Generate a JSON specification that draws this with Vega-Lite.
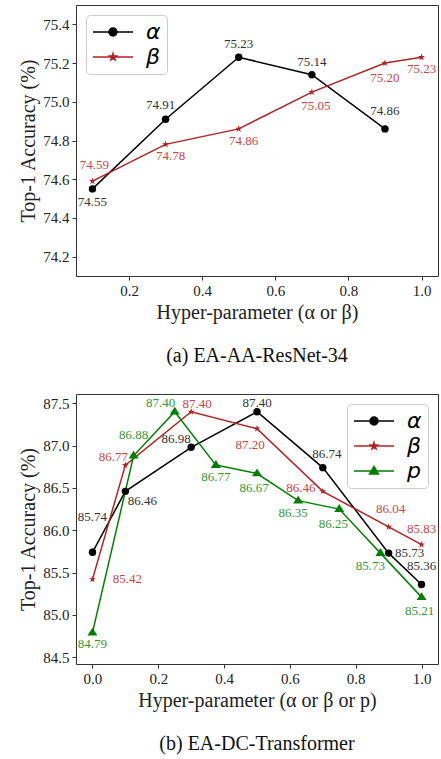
{
"$schema": "https://vega.github.io/schema/vega-lite/v6.json",
"background": "white",
"padding": {"left": 18, "top": 4, "right": 0, "bottom": 5},
"config": {
  "font": "Liberation Serif",
  "view": {"stroke": "#333333", "strokeWidth": 1},
  "axis": {"domain": false, "grid": false, "labelFont": "Liberation Serif", "labelFontSize": 15, "labelColor": "#222222", "tickColor": "#333333", "tickSize": 4, "labelPadding": 3, "titleFont": "Liberation Serif", "titleFontSize": 20, "titleFontWeight": "normal", "titleColor": "#222222"},
  "legend": {"labelFont": "DejaVu Sans", "labelFontStyle": "italic", "labelFontSize": 22, "labelColor": "#000000", "symbolSize": 400, "labelOffset": 32, "rowPadding": 3, "padding": 6, "cornerRadius": 4, "strokeColor": "#cccccc", "fillColor": "white", "offset": 10, "title": null},
  "title": {"font": "Liberation Serif", "fontSize": 20, "fontWeight": "normal", "color": "#111111"}
},
"resolve": {"scale": {"color": "independent"}, "legend": {"color": "independent"}},
"spacing": 26,
"vconcat": [
{
  "width": 362, "height": 271,
  "title": {"text": "(a) EA-AA-ResNet-34", "orient": "bottom", "offset": 24},
  "data": {"values": [
    {"s": "α", "x": 0.1, "y": 74.55},
    {"s": "α", "x": 0.3, "y": 74.91},
    {"s": "α", "x": 0.5, "y": 75.23},
    {"s": "α", "x": 0.7, "y": 75.14},
    {"s": "α", "x": 0.9, "y": 74.86},
    {"s": "β", "x": 0.1, "y": 74.59},
    {"s": "β", "x": 0.3, "y": 74.78},
    {"s": "β", "x": 0.5, "y": 74.86},
    {"s": "β", "x": 0.7, "y": 75.05},
    {"s": "β", "x": 0.9, "y": 75.20},
    {"s": "β", "x": 1.0, "y": 75.23}
  ]},
  "encoding": {
    "x": {"field": "x", "type": "quantitative", "scale": {"domain": [0.055, 1.045], "nice": false, "zero": false}, "axis": {"values": [0.2, 0.4, 0.6, 0.8, 1.0], "format": ".1f", "title": "Hyper-parameter (α or β)", "titlePadding": 4}},
    "y": {"field": "y", "type": "quantitative", "scale": {"domain": [74.1, 75.5], "nice": false, "zero": false}, "axis": {"values": [74.2, 74.4, 74.6, 74.8, 75.0, 75.2, 75.4], "format": ".1f", "title": "Top-1 Accuracy (%)", "titlePadding": 4}}
  },
  "layer": [
    {"mark": {"type": "line", "strokeWidth": 1.5}, "encoding": {"color": {"field": "s", "type": "nominal", "scale": {"domain": ["α", "β"], "range": ["#000000", "#b22222"]}, "legend": {"orient": "top-left", "symbolType": "M-1,0H3", "encode": {"symbols": {"update": {
      "shape": {"signal": "datum.value==='α' ? 'M-1,0H3M1.4,0A0.4,0.4 0 1,1 0.6,0A0.4,0.4 0 1,1 1.4,0Z' : datum.value==='β' ? 'M-1,0H3M1,-0.35L1.0786,-0.108L1.333,-0.108L1.127,0.041L1.206,0.283L1,0.134L0.794,0.283L0.873,0.041L0.667,-0.108L0.9214,-0.108Z' : 'M-1,0H3M0.55,0.3L1.45,0.3L1,-0.45Z'"},
      "fill": {"signal": "datum.value==='α' ? '#000000' : datum.value==='β' ? '#b22222' : '#008000'"},
      "stroke": {"signal": "datum.value==='α' ? '#000000' : datum.value==='β' ? '#b22222' : '#008000'"},
      "strokeWidth": {"value": 1.5}, "opacity": {"value": 1}}}}}}}},
    {"transform": [{"filter": "datum.s==='α'"}], "mark": {"type": "point", "filled": true, "opacity": 1, "size": 55, "shape": "circle", "color": "#000000"}},
    {"transform": [{"filter": "datum.s==='β'"}], "mark": {"type": "point", "filled": true, "opacity": 1, "size": 55, "color": "#b22222", "shape": "M0,-1L0.2245,-0.309L0.951,-0.309L0.363,0.118L0.588,0.809L0,0.382L-0.588,0.809L-0.363,0.118L-0.951,-0.309L-0.2245,-0.309Z"}},
    {"transform": [{"filter": "datum.s==='α'&&datum.x===0.1"}], "mark": {"type": "text", "fontSize": 13, "color": "#333333", "dx": 0, "dy": 13}, "encoding": {"text": {"field": "y", "format": ".2f"}}},
    {"transform": [{"filter": "datum.s==='α'&&datum.x===0.3"}], "mark": {"type": "text", "fontSize": 13, "color": "#333333", "dx": -5, "dy": -14}, "encoding": {"text": {"field": "y", "format": ".2f"}}},
    {"transform": [{"filter": "datum.s==='α'&&(datum.x===0.5||datum.x===0.7)"}], "mark": {"type": "text", "fontSize": 13, "color": "#333333", "dx": 0, "dy": -13}, "encoding": {"text": {"field": "y", "format": ".2f"}}},
    {"transform": [{"filter": "datum.s==='α'&&datum.x===0.9"}], "mark": {"type": "text", "fontSize": 13, "color": "#333333", "dx": 0, "dy": -18}, "encoding": {"text": {"field": "y", "format": ".2f"}}},
    {"transform": [{"filter": "datum.s==='β'&&datum.x===0.1"}], "mark": {"type": "text", "fontSize": 13, "color": "#cc4444", "dx": 2, "dy": -16}, "encoding": {"text": {"field": "y", "format": ".2f"}}},
    {"transform": [{"filter": "datum.s==='β'&&(datum.x===0.3||datum.x===0.5)"}], "mark": {"type": "text", "fontSize": 13, "color": "#cc4444", "dx": 5, "dy": 12}, "encoding": {"text": {"field": "y", "format": ".2f"}}},
    {"transform": [{"filter": "datum.s==='β'&&datum.x===0.7"}], "mark": {"type": "text", "fontSize": 13, "color": "#cc4444", "dx": 4, "dy": 14}, "encoding": {"text": {"field": "y", "format": ".2f"}}},
    {"transform": [{"filter": "datum.s==='β'&&datum.x===0.9"}], "mark": {"type": "text", "fontSize": 13, "color": "#cc4444", "dx": 0, "dy": 15}, "encoding": {"text": {"field": "y", "format": ".2f"}}},
    {"transform": [{"filter": "datum.s==='β'&&datum.x===1.0"}], "mark": {"type": "text", "fontSize": 13, "color": "#cc4444", "dx": 0, "dy": 12}, "encoding": {"text": {"field": "y", "format": ".2f"}}}
  ]
},
{
  "width": 362, "height": 270,
  "title": {"text": "(b) EA-DC-Transformer", "orient": "bottom", "offset": 24},
  "data": {"values": [
    {"s": "α", "x": 0.0, "y": 85.74},
    {"s": "α", "x": 0.1, "y": 86.46},
    {"s": "α", "x": 0.3, "y": 86.98},
    {"s": "α", "x": 0.5, "y": 87.40},
    {"s": "α", "x": 0.7, "y": 86.74},
    {"s": "α", "x": 0.9, "y": 85.73},
    {"s": "α", "x": 1.0, "y": 85.36},
    {"s": "β", "x": 0.0, "y": 85.42},
    {"s": "β", "x": 0.1, "y": 86.77},
    {"s": "β", "x": 0.3, "y": 87.40},
    {"s": "β", "x": 0.5, "y": 87.20},
    {"s": "β", "x": 0.7, "y": 86.46},
    {"s": "β", "x": 0.9, "y": 86.04},
    {"s": "β", "x": 1.0, "y": 85.83},
    {"s": "p", "x": 0.0, "y": 84.79},
    {"s": "p", "x": 0.125, "y": 86.88},
    {"s": "p", "x": 0.25, "y": 87.40},
    {"s": "p", "x": 0.375, "y": 86.77},
    {"s": "p", "x": 0.5, "y": 86.67},
    {"s": "p", "x": 0.625, "y": 86.35},
    {"s": "p", "x": 0.75, "y": 86.25},
    {"s": "p", "x": 0.875, "y": 85.73},
    {"s": "p", "x": 1.0, "y": 85.21}
  ]},
  "encoding": {
    "x": {"field": "x", "type": "quantitative", "scale": {"domain": [-0.05, 1.05], "nice": false, "zero": false}, "axis": {"values": [0.0, 0.2, 0.4, 0.6, 0.8, 1.0], "format": ".1f", "title": "Hyper-parameter (α or β or p)", "titlePadding": 4}},
    "y": {"field": "y", "type": "quantitative", "scale": {"domain": [84.42, 87.61], "nice": false, "zero": false}, "axis": {"values": [84.5, 85.0, 85.5, 86.0, 86.5, 87.0, 87.5], "format": ".1f", "title": "Top-1 Accuracy (%)", "titlePadding": 4}}
  },
  "layer": [
    {"mark": {"type": "line", "strokeWidth": 1.5}, "encoding": {"color": {"field": "s", "type": "nominal", "scale": {"domain": ["α", "β", "p"], "range": ["#000000", "#b22222", "#008000"]}, "legend": {"orient": "top-right", "symbolType": "M-1,0H3", "encode": {"symbols": {"update": {
      "shape": {"signal": "datum.value==='α' ? 'M-1,0H3M1.4,0A0.4,0.4 0 1,1 0.6,0A0.4,0.4 0 1,1 1.4,0Z' : datum.value==='β' ? 'M-1,0H3M1,-0.35L1.0786,-0.108L1.333,-0.108L1.127,0.041L1.206,0.283L1,0.134L0.794,0.283L0.873,0.041L0.667,-0.108L0.9214,-0.108Z' : 'M-1,0H3M0.55,0.3L1.45,0.3L1,-0.45Z'"},
      "fill": {"signal": "datum.value==='α' ? '#000000' : datum.value==='β' ? '#b22222' : '#008000'"},
      "stroke": {"signal": "datum.value==='α' ? '#000000' : datum.value==='β' ? '#b22222' : '#008000'"},
      "strokeWidth": {"value": 1.5}, "opacity": {"value": 1}}}}}}}},
    {"transform": [{"filter": "datum.s==='α'"}], "mark": {"type": "point", "filled": true, "opacity": 1, "size": 55, "shape": "circle", "color": "#000000"}},
    {"transform": [{"filter": "datum.s==='β'"}], "mark": {"type": "point", "filled": true, "opacity": 1, "size": 55, "color": "#b22222", "shape": "M0,-1L0.2245,-0.309L0.951,-0.309L0.363,0.118L0.588,0.809L0,0.382L-0.588,0.809L-0.363,0.118L-0.951,-0.309L-0.2245,-0.309Z"}},
    {"transform": [{"filter": "datum.s==='p'"}], "mark": {"type": "point", "filled": true, "opacity": 1, "size": 55, "color": "#008000", "shape": "M-1.35,0.75L1.35,0.75L0,-1.35Z"}},
    {"transform": [{"filter": "datum.s==='α'&&datum.x===0"}], "mark": {"type": "text", "fontSize": 13, "color": "#333333", "dx": 0, "dy": -35}, "encoding": {"text": {"field": "y", "format": ".2f"}}},
    {"transform": [{"filter": "datum.s==='α'&&datum.x===0.1"}], "mark": {"type": "text", "fontSize": 13, "color": "#333333", "dx": 17, "dy": 10}, "encoding": {"text": {"field": "y", "format": ".2f"}}},
    {"transform": [{"filter": "datum.s==='α'&&datum.x===0.3"}], "mark": {"type": "text", "fontSize": 13, "color": "#333333", "dx": -15, "dy": -8}, "encoding": {"text": {"field": "y", "format": ".2f"}}},
    {"transform": [{"filter": "datum.s==='α'&&datum.x===0.5"}], "mark": {"type": "text", "fontSize": 13, "color": "#333333", "dx": 0, "dy": -9}, "encoding": {"text": {"field": "y", "format": ".2f"}}},
    {"transform": [{"filter": "datum.s==='α'&&datum.x===0.7"}], "mark": {"type": "text", "fontSize": 13, "color": "#333333", "dx": 4, "dy": -14}, "encoding": {"text": {"field": "y", "format": ".2f"}}},
    {"transform": [{"filter": "datum.s==='α'&&datum.x===0.9"}], "mark": {"type": "text", "fontSize": 13, "color": "#333333", "dx": 21, "dy": 0}, "encoding": {"text": {"field": "y", "format": ".2f"}}},
    {"transform": [{"filter": "datum.s==='α'&&datum.x===1"}], "mark": {"type": "text", "fontSize": 13, "color": "#333333", "dx": 0, "dy": -18}, "encoding": {"text": {"field": "y", "format": ".2f"}}},
    {"transform": [{"filter": "datum.s==='β'&&datum.x===0"}], "mark": {"type": "text", "fontSize": 13, "color": "#cc4444", "dx": 35, "dy": 0}, "encoding": {"text": {"field": "y", "format": ".2f"}}},
    {"transform": [{"filter": "datum.s==='β'&&datum.x===0.1"}], "mark": {"type": "text", "fontSize": 13, "color": "#cc4444", "dx": -12, "dy": -8}, "encoding": {"text": {"field": "y", "format": ".2f"}}},
    {"transform": [{"filter": "datum.s==='β'&&datum.x===0.3"}], "mark": {"type": "text", "fontSize": 13, "color": "#cc4444", "dx": 6, "dy": -8}, "encoding": {"text": {"field": "y", "format": ".2f"}}},
    {"transform": [{"filter": "datum.s==='β'&&datum.x===0.5"}], "mark": {"type": "text", "fontSize": 13, "color": "#cc4444", "dx": -7, "dy": 16}, "encoding": {"text": {"field": "y", "format": ".2f"}}},
    {"transform": [{"filter": "datum.s==='β'&&datum.x===0.7"}], "mark": {"type": "text", "fontSize": 13, "color": "#cc4444", "dx": -22, "dy": -3}, "encoding": {"text": {"field": "y", "format": ".2f"}}},
    {"transform": [{"filter": "datum.s==='β'&&datum.x===0.9"}], "mark": {"type": "text", "fontSize": 13, "color": "#cc4444", "dx": 2, "dy": -18}, "encoding": {"text": {"field": "y", "format": ".2f"}}},
    {"transform": [{"filter": "datum.s==='β'&&datum.x===1"}], "mark": {"type": "text", "fontSize": 13, "color": "#cc4444", "dx": 0, "dy": -16}, "encoding": {"text": {"field": "y", "format": ".2f"}}},
    {"transform": [{"filter": "datum.s==='p'&&datum.x===0"}], "mark": {"type": "text", "fontSize": 13, "color": "#339933", "dx": 0, "dy": 11}, "encoding": {"text": {"field": "y", "format": ".2f"}}},
    {"transform": [{"filter": "datum.s==='p'&&datum.x===0.125"}], "mark": {"type": "text", "fontSize": 13, "color": "#339933", "dx": 0, "dy": -21}, "encoding": {"text": {"field": "y", "format": ".2f"}}},
    {"transform": [{"filter": "datum.s==='p'&&datum.x===0.25"}], "mark": {"type": "text", "fontSize": 13, "color": "#339933", "dx": -14, "dy": -9}, "encoding": {"text": {"field": "y", "format": ".2f"}}},
    {"transform": [{"filter": "datum.s==='p'&&datum.x===0.375"}], "mark": {"type": "text", "fontSize": 13, "color": "#339933", "dx": 0, "dy": 12}, "encoding": {"text": {"field": "y", "format": ".2f"}}},
    {"transform": [{"filter": "datum.s==='p'&&datum.x===0.5"}], "mark": {"type": "text", "fontSize": 13, "color": "#339933", "dx": -3, "dy": 14}, "encoding": {"text": {"field": "y", "format": ".2f"}}},
    {"transform": [{"filter": "datum.s==='p'&&datum.x===0.625"}], "mark": {"type": "text", "fontSize": 13, "color": "#339933", "dx": -5, "dy": 12}, "encoding": {"text": {"field": "y", "format": ".2f"}}},
    {"transform": [{"filter": "datum.s==='p'&&datum.x===0.75"}], "mark": {"type": "text", "fontSize": 13, "color": "#339933", "dx": -6, "dy": 15}, "encoding": {"text": {"field": "y", "format": ".2f"}}},
    {"transform": [{"filter": "datum.s==='p'&&datum.x===0.875"}], "mark": {"type": "text", "fontSize": 13, "color": "#339933", "dx": -10, "dy": 13}, "encoding": {"text": {"field": "y", "format": ".2f"}}},
    {"transform": [{"filter": "datum.s==='p'&&datum.x===1"}], "mark": {"type": "text", "fontSize": 13, "color": "#339933", "dx": -2, "dy": 14}, "encoding": {"text": {"field": "y", "format": ".2f"}}}
  ]
}
]
}
